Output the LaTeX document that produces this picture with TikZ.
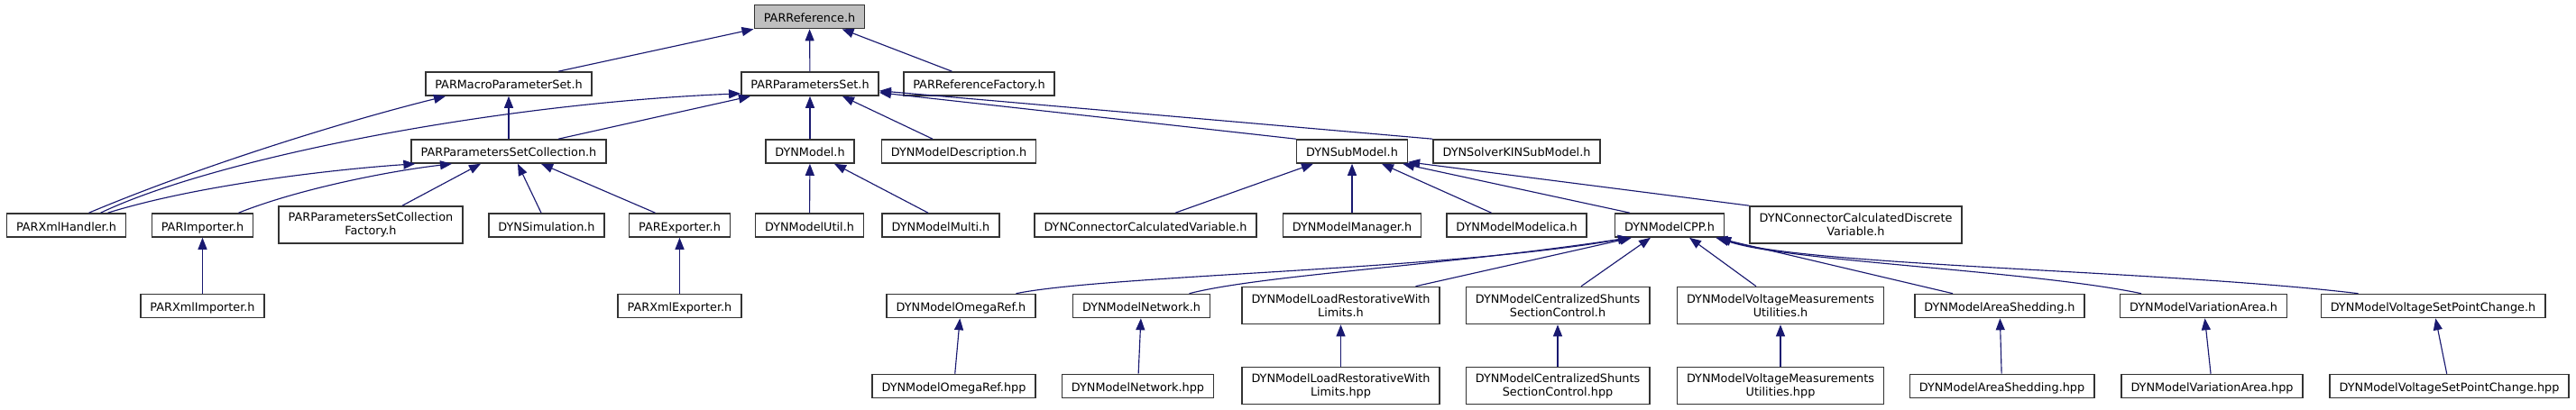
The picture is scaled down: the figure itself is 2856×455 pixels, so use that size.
\documentclass[tikz,border=0pt]{standalone}
\usepackage{fontspec}
\setmainfont{DejaVu Sans}
\usepackage{xcolor}
\usepackage{tikz}
\usetikzlibrary{arrows.meta,calc}
\definecolor{edgeblue}{HTML}{191970}
\definecolor{hilite}{HTML}{BFBFBF}

\begin{document}
\begin{tikzpicture}[x=0.02cm,y=-0.02cm,>={Triangle[length=2.6mm,width=2mm]},
    filebase/.style={draw=black!80,line width=0.9pt,fill=white,inner xsep=0.21cm,inner ysep=0pt,
      font=\fontsize{7.3}{8.5}\selectfont},
    file/.style={filebase,minimum height=0.52cm,text height=1.75ex,text depth=0.5ex},
    filetwo/.style={filebase,align=center,minimum height=0.82cm},
    dep/.style={->,draw=edgeblue,line width=0.65pt}]
  \useasboundingbox (0,0) rectangle (2856,455);
  % Top file and its direct includers
  \node[file,fill=hilite] (ref) at (897.5,18.5) {PARReference.h};
  \node[file] (macro)  at (564,93)    {PARMacroParameterSet.h};
  \node[file] (pset)   at (898,93)    {PARParametersSet.h};
  \node[file] (reffac) at (1085.5,93) {PARReferenceFactory.h};
  % Second level
  \node[file] (coll)  at (564,168)    {PARParametersSetCollection.h};
  \node[file] (model) at (898,168)    {DYNModel.h};
  \node[file] (desc)  at (1063,168)   {DYNModelDescription.h};
  \node[file] (sub)   at (1499,168)   {DYNSubModel.h};
  \node[file] (kin)   at (1681.5,168) {DYNSolverKINSubModel.h};
  % Third level
  \node[file] (xmlh)     at (73.5,250)   {PARXmlHandler.h};
  \node[file] (imp)      at (224.5,250)  {PARImporter.h};
  \node[filetwo] (collfac) at (411,249.5) {PARParametersSetCollection\\Factory.h};
  \node[file] (sim)      at (606,250)    {DYNSimulation.h};
  \node[file] (exp)      at (753.5,250)  {PARExporter.h};
  \node[file] (util)     at (897.5,250)  {DYNModelUtil.h};
  \node[file] (multi)    at (1043,250)   {DYNModelMulti.h};
  \node[file] (ccv)      at (1270,250)   {DYNConnectorCalculatedVariable.h};
  \node[file] (mgr)      at (1499,250)   {DYNModelManager.h};
  \node[file] (modelica) at (1681.5,250) {DYNModelModelica.h};
  \node[file] (cpp)      at (1851,250)   {DYNModelCPP.h};
  \node[filetwo] (ccdv)  at (2057.5,249.5) {DYNConnectorCalculatedDiscrete\\Variable.h};
  % Fourth level
  \node[file] (ximp)  at (224.5,339.5)  {PARXmlImporter.h};
  \node[file] (xexp)  at (753.5,339.5)  {PARXmlExporter.h};
  \node[file] (omega) at (1065.5,339.5) {DYNModelOmegaRef.h};
  \node[file] (net)   at (1265.5,339.5) {DYNModelNetwork.h};
  \node[filetwo] (load)  at (1486.5,339) {DYNModelLoadRestorativeWith\\Limits.h};
  \node[filetwo] (shunt) at (1727,339)   {DYNModelCentralizedShunts\\SectionControl.h};
  \node[filetwo] (volt)  at (1974,339)   {DYNModelVoltageMeasurements\\Utilities.h};
  \node[file] (area)  at (2217,339.5)   {DYNModelAreaShedding.h};
  \node[file] (var)   at (2443,339.5)   {DYNModelVariationArea.h};
  \node[file] (vsp)   at (2697.5,339.5) {DYNModelVoltageSetPointChange.h};
  % Bottom row (hpp files)
  \node[file] (omegah) at (1057.5,428.5) {DYNModelOmegaRef.hpp};
  \node[file] (neth)   at (1261.5,428.5) {DYNModelNetwork.hpp};
  \node[filetwo] (loadh)  at (1486.5,428) {DYNModelLoadRestorativeWith\\Limits.hpp};
  \node[filetwo] (shunth) at (1727,428)   {DYNModelCentralizedShunts\\SectionControl.hpp};
  \node[filetwo] (volth)  at (1974,428)   {DYNModelVoltageMeasurements\\Utilities.hpp};
  \node[file] (areah)  at (2219.5,428.5) {DYNModelAreaShedding.hpp};
  \node[file] (varh)   at (2452.5,428.5) {DYNModelVariationArea.hpp};
  \node[file] (vsph)   at (2715.5,428.5) {DYNModelVoltageSetPointChange.hpp};
  % Edges into PARReference.h
  \draw[dep] ($(macro.north)+(55,0)$) -- (ref.south west);
  \draw[dep] (pset) -- (ref);
  \draw[dep] ($(reffac.north)+(-30,0)$) -- ($(ref.south east)+(-26,0)$);
  % Edges into PARMacroParameterSet.h and PARParametersSet.h
  \draw[dep] ($(xmlh.north)+(25,0)$) .. controls (220,185) and (380,135) .. ($(macro.south)+(-70,0)$);
  \draw[dep] (coll) -- (macro);
  \draw[dep] ($(xmlh.north)+(38,0)$) .. controls (240,175) and (550,115) .. ($(pset.south west)+(0,-3)$);
  \draw[dep] ($(coll.north)+(55,0)$) -- ($(pset.south)+(-66,0)$);
  \draw[dep] (model) -- (pset);
  \draw[dep] ($(desc.north)+(-29,0)$) -- ($(pset.south)+(36,0)$);
  \draw[dep] (sub.north west) -- ($(pset.south east)+(0,-4)$);
  \draw[dep] (kin.north west) -- ($(pset.south east)+(0,-6)$);
  % Edges into PARParametersSetCollection.h
  \draw[dep] ($(xmlh.north)+(46,0)$) .. controls (220,205) and (370,188) .. ($(coll.south west)+(5,0)$);
  \draw[dep] ($(imp.north)+(40,0)$) .. controls (330,210) and (430,190) .. ($(coll.south)+(-63,0)$);
  \draw[dep] ($(collfac.north)+(35,0)$) -- ($(coll.south)+(-31,0)$);
  \draw[dep] ($(sim.north)+(-6,0)$) -- ($(coll.south)+(10,0)$);
  \draw[dep] ($(exp.north)+(-27,0)$) -- ($(coll.south)+(36,0)$);
  \draw[dep] (ximp) -- (imp);
  \draw[dep] (xexp) -- (exp);
  % Edges into DYNModel.h and DYNSubModel.h
  \draw[dep] (util) -- (model);
  \draw[dep] ($(multi.north)+(-14,0)$) -- ($(model.south)+(27,0)$);
  \draw[dep] ($(ccv.north)+(33,0)$) -- ($(sub.south)+(-43,0)$);
  \draw[dep] (mgr) -- (sub);
  \draw[dep] ($(modelica.north)+(-28,0)$) -- ($(sub.south)+(33,0)$);
  \draw[dep] ($(cpp.north)+(-44,0)$) -- ($(sub.south east)+(-6,0)$);
  \draw[dep] (ccdv.north west) -- ($(sub.south east)+(0,-2)$);
  % Edges into DYNModelCPP.h
  \draw[dep] ($(omega.north)+(61,0)$) .. controls (1230,305) and (1600,300) .. ($(cpp.south)+(-44,0)$);
  \draw[dep] ($(net.north)+(53,0)$) .. controls (1400,305) and (1600,295) .. ($(cpp.south)+(-44,0)$);
  \draw[dep] ($(load.north)+(83,0)$) -- ($(cpp.south)+(-42,0)$);
  \draw[dep] ($(shunt.north)+(26,0)$) -- ($(cpp.south)+(-21,0)$);
  \draw[dep] ($(volt.north)+(-27,0)$) -- ($(cpp.south)+(22,0)$);
  \draw[dep] ($(area.north)+(-52,0)$) -- ($(cpp.south east)+(-10,0)$);
  \draw[dep] ($(var.north)+(-69,0)$) .. controls (2250,300) and (1980,290) .. ($(cpp.south east)+(-8,0)$);
  \draw[dep] ($(vsp.north)+(-83,0)$) .. controls (2400,300) and (2000,295) .. ($(cpp.south east)+(-6,0)$);
  % hpp files into their headers
  \foreach \lo/\hi in {omegah/omega,neth/net,loadh/load,shunth/shunt,volth/volt,areah/area,varh/var,vsph/vsp}
    {\draw[dep] (\lo) -- (\hi);}
\end{tikzpicture}
\end{document}
